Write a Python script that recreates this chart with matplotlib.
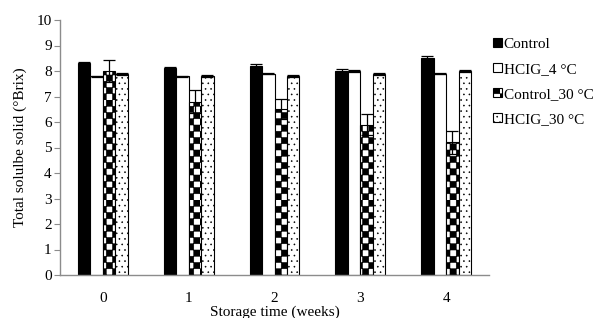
import numpy as np
import matplotlib
matplotlib.use("Agg")
import matplotlib.pyplot as plt
from matplotlib import hatch as mhatch
from matplotlib.path import Path

# ---------------- data ----------------
weeks = ["0", "1", "2", "3", "4"]
series_names = ["Control", "HCIG_4 °C", "Control_30 °C", "HCIG_30 °C"]
control = [8.3, 8.1, 8.2, 8.0, 8.5]
hcig_4 = [7.8, 7.8, 7.9, 8.0, 7.9]
control_30 = [8.0, 6.8, 6.5, 5.9, 5.2]
hcig_30 = [7.9, 7.8, 7.8, 7.9, 8.0]
err_control = [0.07, 0.07, 0.07, 0.07, 0.07]
err_hcig_4 = [0.02, 0.02, 0.02, 0.02, 0.02]
err_control_30 = [0.45, 0.45, 0.4, 0.4, 0.45]
err_hcig_30 = [0.04, 0.04, 0.04, 0.04, 0.04]

values = [control, hcig_4, control_30, hcig_30]
errors = [err_control, err_hcig_4, err_control_30, err_hcig_30]


# ---------------- custom checkerboard hatch (replaces 'O') ----------------
class CheckerHatch(mhatch.HatchPatternBase):
    def __init__(self, hatch, density):
        n = hatch.count('O')
        self.cells = 16 * n
        if n:
            self.num_vertices = (self.cells * self.cells // 2) * 5
        else:
            self.num_vertices = 0

    def set_vertices_and_codes(self, vertices, codes):
        n = self.cells
        s = 1.0 / n
        k = 0
        for i in range(n):
            for j in range(n):
                if (i + j) % 2 == 0:
                    x0, y0 = i * s, j * s
                    vertices[k:k + 5] = [[x0, y0], [x0 + s, y0],
                                         [x0 + s, y0 + s], [x0, y0 + s],
                                         [x0, y0]]
                    codes[k:k + 5] = [Path.MOVETO, Path.LINETO, Path.LINETO,
                                      Path.LINETO, Path.CLOSEPOLY]
                    k += 5


mhatch._hatch_types = [h for h in mhatch._hatch_types
                       if h is not mhatch.LargeCircles] + [CheckerHatch]

plt.rcParams['font.family'] = ['Liberation Serif', 'DejaVu Serif']
plt.rcParams['hatch.linewidth'] = 0.4

fig = plt.figure(figsize=(6.08, 3.18), dpi=100)
ax = fig.add_axes([60 / 608, 1 - 275 / 318, 429 / 608, 255 / 318])

x = np.arange(len(weeks))
bw = 0.145
styles = [
    dict(color="black", edgecolor="black", hatch=None),
    dict(color="white", edgecolor="black", hatch=None),
    dict(color="white", edgecolor="black", hatch="O"),
    dict(color="white", edgecolor="black", hatch="..."),
]
for i, (vals, errs, name, st) in enumerate(zip(values, errors, series_names, styles)):
    pos = x + (i - 1.5) * bw
    ax.bar(pos, vals, width=bw, color=st["color"], edgecolor=st["edgecolor"],
           hatch=st["hatch"], linewidth=0.8, label=name, zorder=2)
    ax.errorbar(pos, vals, yerr=errs, fmt="none", ecolor="black",
                elinewidth=0.9, capsize=4, capthick=0.9, zorder=3)

ax.set_xlim(-0.5, 4.5)
ax.set_ylim(0, 10)
ax.set_yticks(range(0, 11))
ax.set_xticks(x)
ax.set_xticklabels(weeks)
for s in ["top", "right"]:
    ax.spines[s].set_visible(False)
for s in ["left", "bottom"]:
    ax.spines[s].set_color("#8c8c8c")
    ax.spines[s].set_linewidth(1.0)
ax.tick_params(axis="y", direction="out", length=4, color="#8c8c8c",
               labelsize=11, pad=2)
ax.tick_params(axis="x", length=0, labelsize=11, pad=12)
ax.set_ylabel("Total solulbe solid (°Brix)", fontsize=11, labelpad=7)
ax.set_xlabel("Storage time (weeks)", fontsize=11, labelpad=0.5)

leg = ax.legend(loc="upper left", bbox_to_anchor=(487 / 608, 1 - 32 / 318),
                bbox_transform=fig.transFigure, frameon=False, fontsize=11,
                handlelength=0.55, handleheight=0.55, handletextpad=0.15,
                labelspacing=0.78, borderaxespad=0)

fig.savefig("out.png", dpi=100)
